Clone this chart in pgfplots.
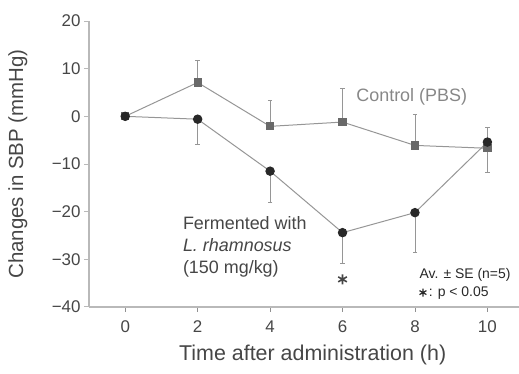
\documentclass[border=0pt]{standalone}
\usepackage{pgfplots}
\pgfplotsset{compat=1.18}
\usepackage{fontspec}
\setmainfont{Liberation Sans}
\definecolor{axgray}{RGB}{185,185,185}
\definecolor{tickgray}{RGB}{70,70,70}
\definecolor{linegray}{RGB}{150,150,150}
\definecolor{ctrlmark}{RGB}{105,105,105}
\definecolor{fermmark}{RGB}{40,40,40}
\definecolor{ctrltext}{RGB}{135,135,135}
\definecolor{fermtext}{RGB}{70,70,70}
\begin{document}
\begin{tikzpicture}
\useasboundingbox (0,0) rectangle (519bp,374bp);
\begin{axis}[
  at={(89bp,67bp)}, anchor=south west,
  scale only axis, width=431bp, height=286bp,
  xmin=-1, xmax=10.9, ymin=-40, ymax=20,
  axis x line=bottom, axis y line=left,
  axis line style={-, axgray, line width=2.6bp},
  xtick={0,2,4,6,8,10},
  ytick={-40,-30,-20,-10,0,10,20},
  yticklabels={−40,−30,−20,−10,0,10,20},
  tick align=outside,
  major tick length=5bp,
  tick style={axgray, line width=1bp},
  x tick style={tickgray!60, line width=0.8bp},
  ticklabel style={font=\fontsize{17}{17}\selectfont, text=tickgray},
  xticklabel style={yshift=-5bp},
  /pgf/number format/assume math mode=true,
  xlabel={Time after administration (h)},
  ylabel={Changes in SBP (mmHg)},
  label style={text=tickgray},
  xlabel style={font=\fontsize{21.5}{22}\selectfont, at={(axis description cs:0.519,-0.168)}, anchor=center},
  ylabel style={font=\fontsize{20.5}{21}\selectfont, at={(axis description cs:-0.165,0.5)}, anchor=center, rotate=0},
  clip=false,
]
% Control (PBS)
\addplot[linegray, line width=1bp, mark=square*, mark size=3.6bp,
  mark options={fill=ctrlmark, draw=ctrlmark},
  error bars/.cd, y dir=plus, y explicit,
  error bar style={linegray, line width=0.9bp},
  error mark options={rotate=90, mark size=2.2bp, linegray}]
  coordinates {
  (0,0) +- (0,0)
  (2,7.1) +- (0,4.6)
  (4,-2.1) +- (0,5.4)
  (6,-1.2) +- (0,7.0)
  (8,-6.1) +- (0,6.5)
  (10,-6.7) +- (0,4.4)
};
% Fermented
\addplot[linegray, line width=1bp, mark=*, mark size=4.2bp,
  mark options={fill=fermmark, draw=fermmark},
  error bars/.cd, y dir=minus, y explicit,
  error bar style={linegray, line width=0.9bp},
  error mark options={rotate=90, mark size=2.2bp, linegray}]
  coordinates {
  (0,0) +- (0,0)
  (2,-0.6) +- (0,5.3)
  (4,-11.5) +- (0,6.5)
  (6,-24.4) +- (0,6.4)
  (8,-20.2) +- (0,8.3)
  (10,-5.4) +- (0,6.4)
};
% significance
\addplot[only marks, mark=asterisk, mark size=5bp, mark options={fermtext, line width=1.6bp}]
  coordinates {(6,-34.2)};
\node[text=ctrltext, font=\fontsize{18}{18}\selectfont] at (axis cs:7.91,4.0) {Control (PBS)};
\node[text=fermtext, font=\fontsize{18}{22}\selectfont, align=left, anchor=west, inner sep=0pt]
  at (axis cs:1.59,-27.4) {Fermented with\\\textit{L. rhamnosus}\\(150 mg/kg)};
\node[text=fermmark, font=\fontsize{14}{14}\selectfont, anchor=west, inner sep=0pt]
  at (axis cs:8.12,-33.3) {Av. ± SE (n=5)};
\node[text=fermmark, font=\fontsize{14}{14}\selectfont, anchor=west, inner sep=0pt]
  at (axis cs:8.12,-37.1) {\tikz[baseline=-4bp]{\pgfsetplotmarksize{4bp}\pgfsetlinewidth{1.2bp}\pgfuseplotmark{asterisk}}\,: p < 0.05};
\end{axis}
\end{tikzpicture}
\end{document}
